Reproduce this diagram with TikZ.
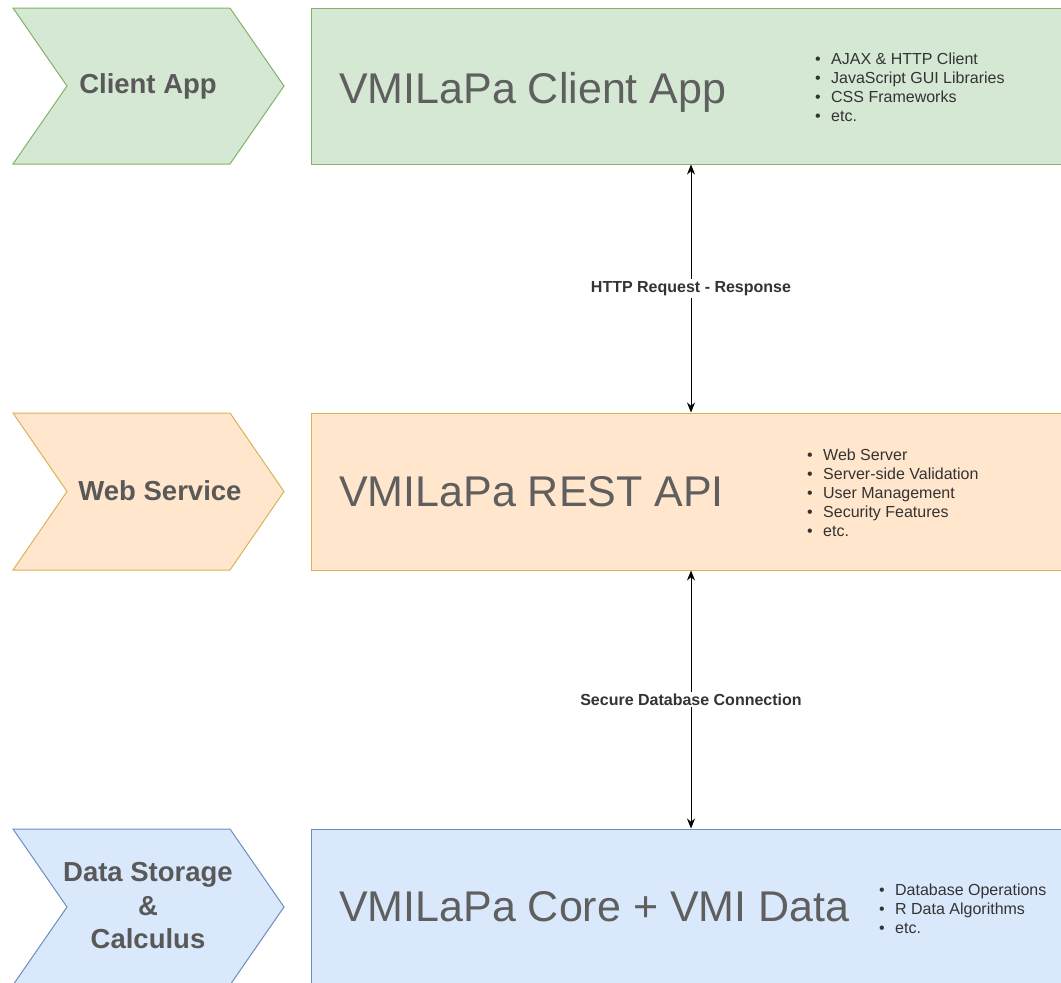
\documentclass[tikz,border=0pt]{standalone}
\usepackage{fontspec}
\setmainfont{Liberation Sans}
\usetikzlibrary{arrows.meta}
\definecolor{gfill}{HTML}{D5E8D4}\definecolor{gline}{HTML}{82B366}
\definecolor{ofill}{HTML}{FFE6CC}\definecolor{oline}{HTML}{D6B656}
\definecolor{bfill}{HTML}{DAE8FC}\definecolor{bline}{HTML}{6C8EBF}
\definecolor{chevtext}{HTML}{595959}
\definecolor{bigtext}{HTML}{5F5F5F}
\definecolor{smalltext}{HTML}{333333}
\newcommand{\bitem}[1]{\makebox[16pt][l]{•}#1}
\tikzset{
  layerbox/.style={draw, line width=1pt, rectangle, minimum width=754pt, inner sep=0pt, anchor=west},
  chevlabel/.style={text=chevtext, font=\bfseries\fontsize{27.5}{33.5}\selectfont, align=center, inner sep=0pt},
  bigtitle/.style={text=bigtext, font=\fontsize{43}{50}\selectfont, anchor=base west, inner sep=0pt},
  bullets/.style={text=smalltext, font=\fontsize{16}{19}\selectfont, align=left, anchor=base west, inner sep=0pt},
  linklabel/.style={fill=white, text=smalltext, font=\bfseries\fontsize{16}{19}\selectfont, inner sep=2pt},
  link/.style={line width=1pt, {Stealth[length=10pt,width=8pt]}-{Stealth[length=10pt,width=8pt]}},
}
\newcommand{\chevron}[3]{% top, bottom, style
  \filldraw[#3, line width=1pt] (13,#1) -- (230,#1) -- (284,{(#1+#2)/2}) -- (230,#2) -- (13,#2) -- (67,{(#1+#2)/2}) -- cycle;}
\begin{document}
\begin{tikzpicture}[x=1pt,y=-1pt]
\useasboundingbox (0,0) rectangle (1061,983);
\clip (0,0) rectangle (1061,983);
% chevrons
\chevron{8}{164}{fill=gfill, draw=gline}
\chevron{413}{570}{fill=ofill, draw=oline}
\chevron{829}{985}{fill=bfill, draw=bline}
\node[chevlabel] (c1) at (148,86) {Client App};
\node[chevlabel] (c2) at (160,491) {Web Service};
\node[chevlabel] (c3) at (148,906) {Data Storage\\\&\\Calculus};
% boxes
\node[layerbox, fill=gfill, draw=gline, minimum height=156pt] (b1) at (311,86) {};
\node[layerbox, fill=ofill, draw=oline, minimum height=157pt] (b2) at (311,491.5) {};
\node[layerbox, fill=bfill, draw=bline, minimum height=156pt] (b3) at (311,907) {};
% titles
\node[bigtitle] (t1) at (339,103) {VMILaPa Client App};
\node[bigtitle] (t2) at (339,506) {VMILaPa REST API};
\node[bigtitle] (t3) at (339,921) {VMILaPa Core + VMI Data};
% bullets (anchored at the baseline of the last line)
\node[bullets] (l1) at (815,121) {\bitem{AJAX \& HTTP Client}\\\bitem{JavaScript GUI Libraries}\\\bitem{CSS Frameworks}\\\bitem{etc.}};
\node[bullets] (l2) at (807,536) {\bitem{Web Server}\\\bitem{Server-side Validation}\\\bitem{User Management}\\\bitem{Security Features}\\\bitem{etc.}};
\node[bullets] (l3) at (879,933) {\bitem{Database Operations}\\\bitem{R Data Algorithms}\\\bitem{etc.}};
% connectors
\coordinate (ax) at (691,0);
\draw[link] (b1.south -| ax) -- node[linklabel] (h1) {HTTP Request - Response} (b2.north -| ax);
\draw[link] (b2.south -| ax) -- node[linklabel] (h2) {Secure Database Connection} (b3.north -| ax);
\end{tikzpicture}
\end{document}
